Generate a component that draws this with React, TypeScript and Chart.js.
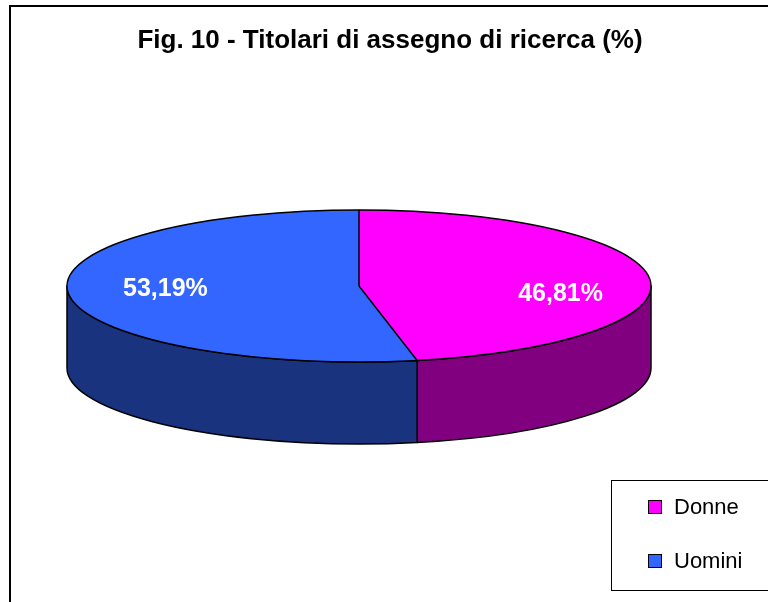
import React, { useEffect, useRef } from "react";
import { Chart, registerables } from "chart.js";

Chart.register(...registerables);

const categories = ["Donne", "Uomini"];
const values = [46.81, 53.19];
const topColors = ["#FF00FF", "#3366FF"];
const sideColors = ["#800080", "#1A337F"];
const titleText = "Fig. 10 - Titolari di assegno di ricerca (%)";

const FONT = "'Liberation Sans', Arial, Helvetica, sans-serif";
const CX = 359;
const CY = 286;
const RX = 292;
const RY = 76;
const DEPTH = 82;

const fmt = (v: number) => v.toFixed(2).replace(".", ",") + "%";

const pie3d = {
  id: "pie3d",
  beforeDraw(chart: any) {
    const ctx = chart.ctx;
    ctx.save();
    ctx.fillStyle = "#ffffff";
    ctx.fillRect(0, 0, chart.width, chart.height);
    ctx.strokeStyle = "#000000";
    ctx.lineWidth = 2;
    ctx.strokeRect(10, 6, 820, 700);
    ctx.restore();
  },
  beforeDatasetsDraw(chart: any) {
    const ctx = chart.ctx;
    const meta = chart.getDatasetMeta(0);
    // side walls (front half only)
    meta.data.forEach((arc: any, i: number) => {
      const s = arc.startAngle;
      const e = arc.endAngle;
      const ranges = [
        [Math.max(s, 0), Math.min(e, Math.PI)],
        [Math.max(s, 2 * Math.PI), Math.min(e, 3 * Math.PI)],
      ];
      ranges.forEach(([a0, a1]) => {
        if (a1 <= a0) return;
        ctx.save();
        ctx.beginPath();
        ctx.ellipse(CX, CY, RX, RY, 0, a0, a1, false);
        ctx.lineTo(CX + RX * Math.cos(a1), CY + RY * Math.sin(a1) + DEPTH);
        ctx.ellipse(CX, CY + DEPTH, RX, RY, 0, a1, a0, true);
        ctx.closePath();
        ctx.fillStyle = sideColors[i];
        ctx.fill();
        ctx.strokeStyle = "#000000";
        ctx.lineWidth = 1.5;
        ctx.lineJoin = "round";
        ctx.stroke();
        ctx.restore();
      });
    });
    const a = meta.data[0];
    ctx.save();
    ctx.translate(CX, CY);
    ctx.scale(RX / a.outerRadius, RY / a.outerRadius);
    ctx.translate(-a.x, -a.y);
  },
  afterDatasetsDraw(chart: any) {
    const ctx = chart.ctx;
    ctx.restore();
    const meta = chart.getDatasetMeta(0);
    // top outline
    ctx.save();
    ctx.strokeStyle = "#000000";
    ctx.lineWidth = 1.5;
    ctx.beginPath();
    ctx.ellipse(CX, CY, RX, RY, 0, 0, Math.PI * 2);
    ctx.stroke();
    meta.data.forEach((arc: any) => {
      const s = arc.startAngle;
      ctx.beginPath();
      ctx.moveTo(CX, CY);
      ctx.lineTo(CX + RX * Math.cos(s), CY + RY * Math.sin(s));
      ctx.stroke();
    });
    // value labels
    ctx.fillStyle = "#ffffff";
    ctx.font = `bold 25px ${FONT}`;
    ctx.textAlign = "center";
    ctx.textBaseline = "middle";
    meta.data.forEach((arc: any, i: number) => {
      const m = (arc.startAngle + arc.endAngle) / 2;
      const f = 0.68;
      const x = CX + 4 + RX * f * Math.cos(m);
      const y = CY + 6 - 0.5 * RY * f * Math.sin(m);
      ctx.fillText(fmt(values[i]), x, y);
    });
    // legend
    ctx.strokeStyle = "#000000";
    ctx.lineWidth = 1;
    ctx.fillStyle = "#ffffff";
    ctx.fillRect(611.5, 480.5, 200, 110);
    ctx.strokeRect(611.5, 480.5, 200, 110);
    ctx.font = `22px ${FONT}`;
    ctx.textAlign = "left";
    ctx.textBaseline = "middle";
    categories.forEach((c, i) => {
      const yc = 507 + i * 54;
      ctx.fillStyle = topColors[i];
      ctx.fillRect(649, yc - 6, 12, 12);
      ctx.strokeRect(648.5, yc - 6.5, 13, 13);
      ctx.fillStyle = "#000000";
      ctx.fillText(c, 674, yc + 1);
    });
    ctx.restore();
  },
};

export default function App() {
  const ref = useRef<HTMLCanvasElement | null>(null);
  useEffect(() => {
    if (!ref.current) return;
    const chart = new Chart(ref.current, {
      type: "pie",
      data: {
        labels: categories,
        datasets: [
          {
            data: values,
            backgroundColor: topColors,
            borderWidth: 0,
            clip: false,
          } as any,
        ],
      },
      options: {
        responsive: false,
        animation: false,
        events: [],
        layout: { padding: { left: 12, right: 0, top: 10, bottom: 10 } },
        plugins: {
          legend: { display: false },
          tooltip: { enabled: false },
          title: {
            display: true,
            text: titleText,
            color: "#000000",
            font: { family: FONT, size: 26, weight: "bold" },
            padding: { top: 15, bottom: 10 },
          },
        },
      } as any,
      plugins: [pie3d],
    });
    return () => chart.destroy();
  }, []);
  return (
    <div style={{ position: "fixed", left: 0, top: 0, width: 768, height: 602, background: "#fff" }}>
      <canvas ref={ref} width={768} height={602} style={{ width: 768, height: 602, display: "block" }} />
    </div>
  );
}
